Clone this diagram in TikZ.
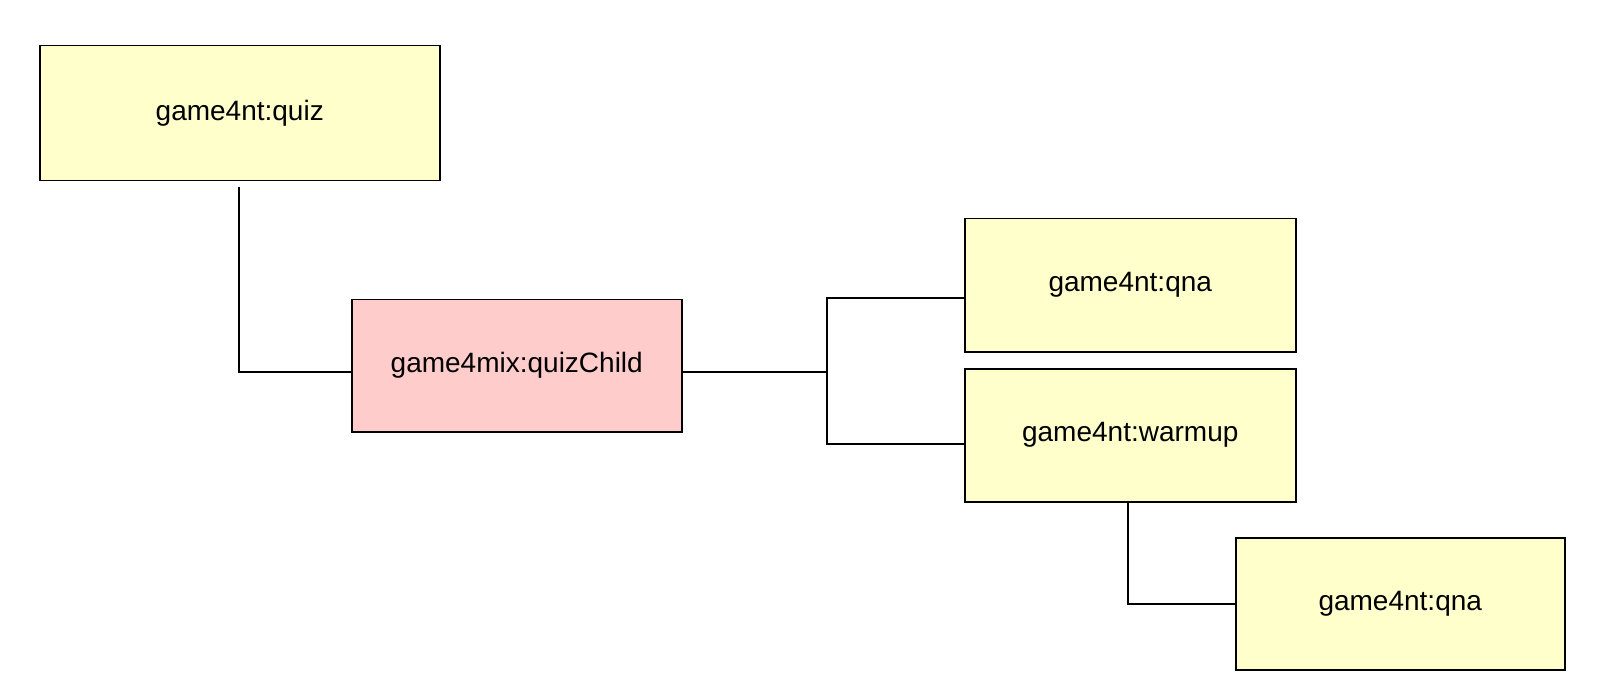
\documentclass[tikz,border=0pt]{standalone}
\usepackage{fontspec}
\setmainfont{Liberation Sans}
\definecolor{yel}{HTML}{FFFFCC}
\definecolor{pnk}{HTML}{FFCCCC}
\begin{document}
\begin{tikzpicture}[x=1pt,y=-1pt,
  box/.style={draw=black,line width=1.5pt,anchor=north west,inner sep=0pt,font=\fontsize{28}{32}\selectfont},
  link/.style={draw=black,line width=1.5pt}]
\useasboundingbox[fill=white] (0,0) rectangle (1600,700);
\node[box,fill=yel,minimum width=400pt,minimum height=135pt] (quiz) at (39,45) {game4nt:quiz};
\node[box,fill=pnk,minimum width=330pt,minimum height=132pt] (child) at (351,299) {game4mix:quizChild};
\node[box,fill=yel,minimum width=331pt,minimum height=133pt] (qna1) at (964,218) {game4nt:qna};
\node[box,fill=yel,minimum width=331pt,minimum height=133pt] (warm) at (964,368) {game4nt:warmup};
\node[box,fill=yel,minimum width=329pt,minimum height=132pt] (qna2) at (1235,537) {game4nt:qna};
\coordinate (j1) at (239,372);
\coordinate (j2) at (827,372);
\coordinate (j2a) at (827,298);
\coordinate (j2b) at (827,444);
\coordinate (j3) at (1128,604);
\draw[link] (quiz.south -| j1) ++(0,6) -- (j1) -- (j1 -| child.west);
\draw[link] (child.east |- j2) -- (j2);
\draw[link] (qna1.west |- j2a) -- (j2a) -- (j2b) -- (j2b -| warm.west);
\draw[link] (warm.south -| j3) -- (j3) -- (j3 -| qna2.west);
\end{tikzpicture}
\end{document}
